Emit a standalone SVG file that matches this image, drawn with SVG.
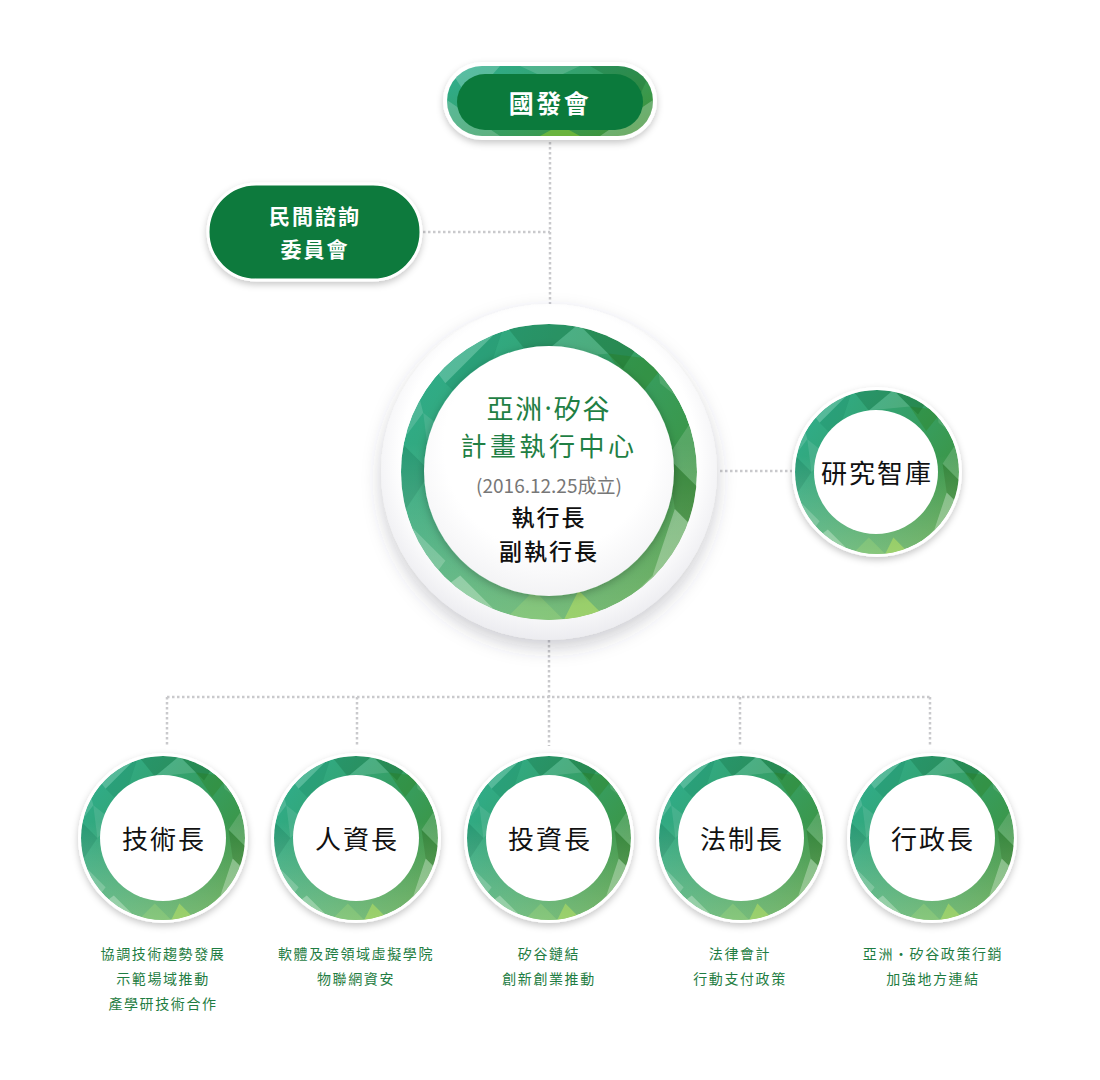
<svg xmlns="http://www.w3.org/2000/svg" xmlns:xlink="http://www.w3.org/1999/xlink" width="1100" height="1080" viewBox="0 0 1100 1080">
<defs>
<style>
.cjk{font-family:"Noto Sans CJK TC","Noto Sans",sans-serif;text-anchor:middle;dominant-baseline:central}
.dot{fill:none;stroke:#c9c9cc;stroke-width:2.5;stroke-dasharray:2.5 2.5}
.lbl{font-size:26px;fill:#111;letter-spacing:2px;font-weight:400}
.desc{font-size:14px;fill:#1f7d43;letter-spacing:1.6px}
.wt{fill:#fff;font-weight:700;font-size:21px;letter-spacing:2px}
</style>
<filter id="sh" x="-30%" y="-30%" width="160%" height="160%"><feDropShadow dx="0" dy="3" stdDeviation="3.5" flood-color="#000" flood-opacity="0.22"/></filter>
<filter id="shBig" x="-30%" y="-30%" width="160%" height="160%"><feDropShadow dx="0" dy="8" stdDeviation="9" flood-color="#3a3a50" flood-opacity="0.25"/></filter>
<filter id="shIn" x="-30%" y="-30%" width="160%" height="160%"><feDropShadow dx="0" dy="2" stdDeviation="4" flood-color="#000" flood-opacity="0.25"/></filter>
<linearGradient id="rg" x1="0" y1="0.15" x2="1" y2="0.85">
<stop offset="0" stop-color="#2fae8d"/><stop offset="0.45" stop-color="#35a069"/><stop offset="1" stop-color="#3f9134"/>
</linearGradient>
<linearGradient id="rgLight" x1="0" y1="0" x2="0" y2="1">
<stop offset="0.4" stop-color="#fff" stop-opacity="0"/><stop offset="1" stop-color="#e8ffd0" stop-opacity="0.35"/>
</linearGradient>
<radialGradient id="disc" cx="0.5" cy="0.45" r="0.55">
<stop offset="0.8" stop-color="#ffffff"/><stop offset="1" stop-color="#ececf0"/>
</radialGradient>
<radialGradient id="innerDisc" cx="0.5" cy="0.4" r="0.6">
<stop offset="0.7" stop-color="#ffffff"/><stop offset="1" stop-color="#f3f3f5"/>
</radialGradient>
<clipPath id="cc"><circle r="100"/></clipPath>
<clipPath id="pillClip"><rect x="447" y="66" width="206" height="70" rx="35"/></clipPath>
<symbol id="ring" viewBox="-100 -100 200 200">
<g clip-path="url(#cc)">
<circle r="100" fill="url(#rg)"/>
<polygon points="-100,-100 -30,-100 -70,-60" fill="#fff" opacity="0.18"/>
<polygon points="-30,-100 20,-100 -10,-75" fill="#0a5a30" opacity="0.25"/>
<polygon points="-10,-75 20,-100 40,-80" fill="#fff" opacity="0.12"/>
<polygon points="20,-100 70,-100 50,-70" fill="#0a5a20" opacity="0.3"/>
<polygon points="40,-80 80,-75 60,-50" fill="#2a7a10" opacity="0.3"/>
<polygon points="70,-100 100,-100 100,-40 75,-60" fill="#fff" opacity="0.12"/>
<polygon points="100,-40 100,10 80,-10" fill="#fff" opacity="0.15"/>
<polygon points="80,-10 100,10 100,40 85,25" fill="#1a5a10" opacity="0.3"/>
<polygon points="85,25 100,40 100,100 70,70" fill="#fff" opacity="0.3"/>
<polygon points="70,70 100,100 40,100" fill="#fff" opacity="0.25"/>
<polygon points="40,100 10,100 20,80" fill="#9acf30" opacity="0.6"/>
<polygon points="10,100 -30,100 -10,80" fill="#7ac050" opacity="0.4"/>
<polygon points="-30,100 -100,100 -60,70" fill="#fff" opacity="0.3"/>
<polygon points="-100,100 -100,30 -70,60" fill="#fff" opacity="0.2"/>
<polygon points="-100,30 -100,-20 -80,0" fill="#0a6a4a" opacity="0.25"/>
<polygon points="-100,-20 -100,-100 -85,-40" fill="#fff" opacity="0.15"/>
<polygon points="-80,0 -85,-40 -60,-20" fill="#fff" opacity="0.1"/>
<polygon points="-70,-60 -30,-100 -50,-40" fill="#0a6a4a" opacity="0.15"/>
<circle r="100" fill="url(#rgLight)"/>
</g>
</symbol>
</defs>

<rect width="1100" height="1080" fill="#ffffff"/>

<g id="connectors">
<line class="dot" x1="550" y1="142" x2="550" y2="307"/>
<line class="dot" x1="423" y1="232" x2="550" y2="232"/>
<line class="dot" x1="720" y1="471" x2="794" y2="471"/>
<line class="dot" x1="549" y1="640" x2="549" y2="746"/>
<line class="dot" x1="167" y1="697" x2="930" y2="697"/>
<line class="dot" x1="167" y1="697" x2="167" y2="746"/>
<line class="dot" x1="357" y1="697" x2="357" y2="746"/>
<line class="dot" x1="740" y1="697" x2="740" y2="746"/>
<line class="dot" x1="930" y1="697" x2="930" y2="746"/>
</g>

<g id="node-ndc">
<rect x="443" y="62" width="214" height="78" rx="39" fill="#fff" filter="url(#sh)"/>
<g clip-path="url(#pillClip)">
<rect x="447" y="66" width="206" height="70" fill="url(#rg)"/>
<polygon points="447,66 500,66 470,100" fill="#fff" opacity="0.2"/>
<polygon points="520,66 580,66 550,80" fill="#fff" opacity="0.15"/>
<polygon points="590,66 653,66 640,95" fill="#0a5a20" opacity="0.25"/>
<polygon points="600,136 653,136 653,100" fill="#fff" opacity="0.25"/>
<polygon points="447,136 500,136 447,100" fill="#fff" opacity="0.2"/>
<polygon points="540,136 580,136 560,125" fill="#9acf30" opacity="0.5"/>
</g>
<rect x="457" y="74" width="186" height="56" rx="28" fill="#0b7a3c"/>
<text class="cjk wt" x="550" y="102" style="font-size:25px;letter-spacing:2.5px">國發會</text>
</g>

<g id="node-advisory">
<rect x="208" y="184" width="213" height="96" rx="48" fill="#0b7a3c" stroke="#fff" stroke-width="3" filter="url(#sh)"/>
<text class="cjk wt" x="315" y="215">民間諮詢</text>
<text class="cjk wt" x="315" y="248">委員會</text>
</g>

<g id="node-center">
<circle cx="549" cy="472" r="168" fill="url(#disc)" filter="url(#shBig)"/>
<use href="#ring" x="401" y="324" width="296" height="296"/>
<circle cx="549" cy="471" r="125" fill="url(#innerDisc)" filter="url(#shIn)"/>
<text class="cjk" x="549" y="407" font-size="27" fill="#1f7f44" letter-spacing="2">亞洲<tspan font-family="'Noto Sans',sans-serif">·</tspan>矽谷</text>
<text class="cjk" x="549" y="444" font-size="26" fill="#1f7f44" letter-spacing="3.5">計畫執行中心</text>
<text class="cjk" x="549" y="484" font-size="19" fill="#777">(2016.12.25成立)</text>
<text class="cjk" x="549" y="516" font-size="23" fill="#111" font-weight="500" letter-spacing="2">執行長</text>
<text class="cjk" x="549" y="550" font-size="23" fill="#111" font-weight="500" letter-spacing="2">副執行長</text>
</g>

<g id="node-think">
<circle cx="877" cy="472" r="85" fill="#fff" filter="url(#sh)"/>
<use href="#ring" x="795" y="390" width="164" height="164"/>
<circle cx="876" cy="472" r="62" fill="#fff"/>
<text class="cjk lbl" x="877" y="471">研究智庫</text>
</g>

<g id="node-cto">
<circle cx="163" cy="838" r="85" fill="#fff" filter="url(#sh)"/>
<use href="#ring" x="81" y="756" width="164" height="164"/>
<circle cx="163" cy="838" r="63" fill="#fff"/>
<text class="cjk lbl" x="164" y="837">技術長</text>
<text class="cjk desc" x="163" y="953">協調技術趨勢發展</text>
<text class="cjk desc" x="163" y="978">示範場域推動</text>
<text class="cjk desc" x="163" y="1003">產學研技術合作</text>
</g>

<g id="node-hr">
<circle cx="356" cy="838" r="85" fill="#fff" filter="url(#sh)"/>
<use href="#ring" x="274" y="756" width="164" height="164"/>
<circle cx="356" cy="838" r="63" fill="#fff"/>
<text class="cjk lbl" x="357" y="837">人資長</text>
<text class="cjk desc" x="356" y="953">軟體及跨領域虛擬學院</text>
<text class="cjk desc" x="356" y="978">物聯網資安</text>
</g>

<g id="node-invest">
<circle cx="549" cy="838" r="85" fill="#fff" filter="url(#sh)"/>
<use href="#ring" x="467" y="756" width="164" height="164"/>
<circle cx="549" cy="838" r="63" fill="#fff"/>
<text class="cjk lbl" x="550" y="837">投資長</text>
<text class="cjk desc" x="549" y="953">矽谷鏈結</text>
<text class="cjk desc" x="549" y="978">創新創業推動</text>
</g>

<g id="node-legal">
<circle cx="741" cy="838" r="85" fill="#fff" filter="url(#sh)"/>
<use href="#ring" x="659" y="756" width="164" height="164"/>
<circle cx="741" cy="838" r="63" fill="#fff"/>
<text class="cjk lbl" x="742" y="837">法制長</text>
<text class="cjk desc" x="740" y="953">法律會計</text>
<text class="cjk desc" x="740" y="978">行動支付政策</text>
</g>

<g id="node-admin">
<circle cx="932" cy="838" r="85" fill="#fff" filter="url(#sh)"/>
<use href="#ring" x="850" y="756" width="164" height="164"/>
<circle cx="932" cy="838" r="63" fill="#fff"/>
<text class="cjk lbl" x="933" y="837">行政長</text>
<text class="cjk desc" x="933" y="953">亞洲・矽谷政策行銷</text>
<text class="cjk desc" x="933" y="978">加強地方連結</text>
</g>
</svg>
